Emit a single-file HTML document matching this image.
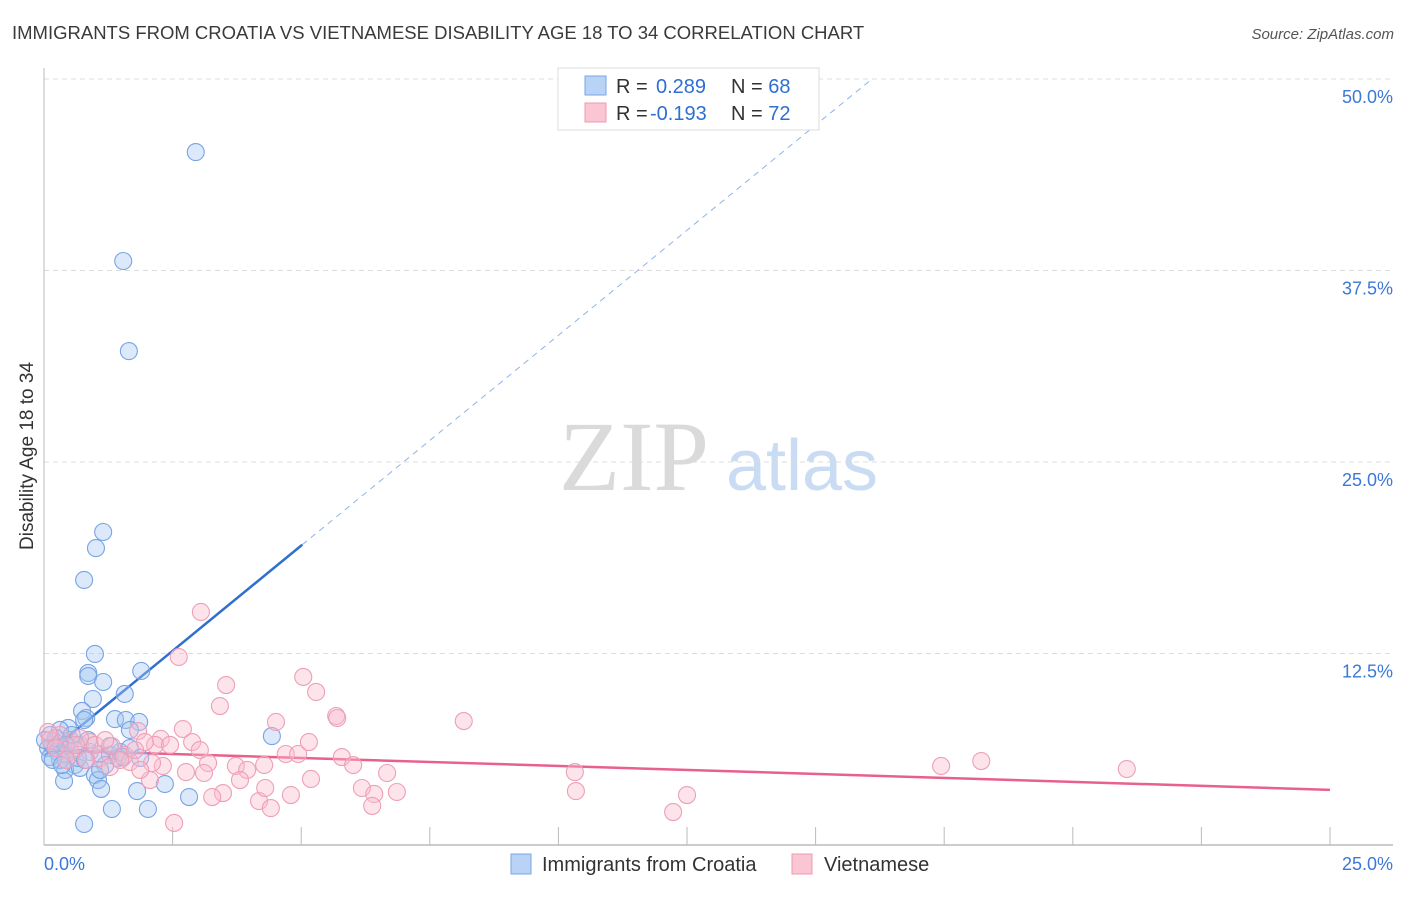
<!DOCTYPE html>
<html><head><meta charset="utf-8"><style>
body{margin:0;background:#fff;font-family:"Liberation Sans",sans-serif;}
</style></head><body>
<svg id="chart" width="1406" height="892" viewBox="0 0 1406 892" xmlns="http://www.w3.org/2000/svg" font-family="Liberation Sans, sans-serif">
<text x="12" y="39" font-size="18.5" fill="#3a3a3a">IMMIGRANTS FROM CROATIA VS VIETNAMESE DISABILITY AGE 18 TO 34 CORRELATION CHART</text>
<text x="1394" y="39" font-size="15" fill="#555" font-style="italic" text-anchor="end">Source: ZipAtlas.com</text>
<g>
<text x="634" y="490" font-size="100" style="font-family:'Liberation Serif',serif" fill="#dadada" text-anchor="middle">ZIP</text>
<text x="802" y="490" font-size="72" fill="#c9dcf3" text-anchor="middle">atlas</text>
</g>
<g id="grid"></g>
<g id="axes"></g>
<g id="lines"></g>
<g id="points"></g>
<text transform="translate(33,456) rotate(-90)" font-size="19" fill="#333" text-anchor="middle">Disability Age 18 to 34</text>
<g>
<rect x="558" y="68" width="261" height="62" fill="#fff" stroke="#ddd"/>
<rect x="585" y="76" width="21" height="19" fill="#b8d3f5" stroke="#7aa6e6"/>
<rect x="585" y="103" width="21" height="19" fill="#fbc6d4" stroke="#eb9ab2"/>
<text x="616" y="93" font-size="20" fill="#333">R = <tspan fill="#2f6fd0" x="656">0.289</tspan><tspan x="731" fill="#333">N = </tspan><tspan fill="#2f6fd0">68</tspan></text>
<text x="616" y="120" font-size="20" fill="#333">R = <tspan fill="#2f6fd0" x="650">-0.193</tspan><tspan x="731" fill="#333">N = </tspan><tspan fill="#2f6fd0">72</tspan></text>
</g>
<g>
<rect x="511" y="854" width="20" height="20" fill="#b8d3f5" stroke="#7aa6e6"/>
<text x="542" y="871" font-size="20" fill="#333">Immigrants from Croatia</text>
<rect x="792" y="854" width="20" height="20" fill="#fbc6d4" stroke="#eb9ab2"/>
<text x="824" y="871" font-size="20" fill="#333">Vietnamese</text>
</g>
</svg>
<script>
const xTicks=[0,2.5,5,7.5,10,12.5,15,17.5,20,22.5,25];
const yTicks=[12.5,25,37.5,50];
const yTickLabels=["12.5%","25.0%","37.5%","50.0%"];
const xEndLabels=["0.0%","25.0%"];
const blueX=[2.95,1.54,1.65,1.15,1.01,0.78,0.99,0.86,0.86,1.89,1.15,0.95,1.57,0.74,0.82,0.78,1.38,1.59,1.85,1.67,4.43,0.47,0.31,0.12,0.21,0.51,0.70,0.35,0.08,0.60,0.27,0.41,0.89,1.09,1.28,1.48,1.44,0.60,0.41,0.70,1.19,0.31,0.12,0.99,1.05,1.11,0.39,1.81,2.35,2.82,1.32,2.02,0.78,0.16,0.54,0.23,0.43,0.86,0.02,0.66,0.17,0.35,1.09,1.67,1.28,1.54,1.87,0.80];
const blueY=[45.23,38.12,32.24,20.43,19.38,17.30,12.47,11.23,11.03,11.36,10.64,9.53,9.86,8.75,8.29,8.16,8.22,8.16,8.03,7.51,7.11,7.64,7.51,7.18,6.72,6.85,6.53,6.33,6.33,6.20,6.07,5.87,6.07,5.94,5.87,6.07,5.68,5.22,4.90,5.03,5.22,5.55,5.74,4.57,4.24,3.66,4.18,3.52,3.98,3.13,2.35,2.35,1.37,6.53,7.18,6.98,6.53,6.85,6.85,5.68,5.55,5.22,4.90,6.33,6.46,5.74,5.68,5.55];
const pinkX=[3.05,2.62,3.54,5.04,5.29,3.42,4.51,5.68,5.70,8.16,2.70,2.88,1.83,2.27,2.16,1.32,1.57,1.96,2.45,3.19,3.11,2.76,3.73,3.95,4.28,4.70,4.94,5.15,5.79,6.01,6.67,3.48,3.27,4.18,4.41,4.80,5.19,6.18,6.42,6.86,6.38,10.32,10.34,12.50,12.23,17.44,18.22,21.05,2.53,2.31,2.10,1.67,1.09,0.89,0.70,0.31,0.12,0.51,1.28,1.48,1.77,2.06,3.81,4.30,0.08,0.23,0.43,0.62,0.82,0.99,1.19,1.87,3.03];
const pinkY=[15.21,12.27,10.44,10.97,9.99,9.07,8.03,8.42,8.29,8.09,7.57,6.72,7.44,6.92,6.53,6.46,5.87,6.72,6.53,5.35,4.70,4.76,5.16,4.90,5.22,5.94,5.94,6.72,5.74,5.22,4.70,3.39,3.13,2.87,2.41,3.26,4.31,3.72,3.33,3.46,2.55,4.76,3.52,3.26,2.15,5.16,5.48,4.96,1.44,5.16,5.35,5.42,5.68,6.72,6.98,7.18,6.85,6.07,5.09,5.55,6.20,4.24,4.24,3.72,7.38,6.33,5.55,6.53,5.55,6.53,6.85,4.90,6.20];
const blueTrend=[[0,5.8],[5.02,19.6],[16.06,49.9]];
const pinkTrend=[[0,6.2],[25,3.6]];

const NS="http://www.w3.org/2000/svg";
const X=v=>44+v/25*1286;
const Y=v=>845-v/50*766;
function mk(tag,attrs,parent){const e=document.createElementNS(NS,tag);for(const k in attrs)e.setAttribute(k,attrs[k]);document.getElementById(parent).appendChild(e);return e;}

yTicks.forEach((t,i)=>{
 const g=mk('line',{x1:44,x2:1393,y1:Y(t),y2:Y(t),stroke:'#dcdcdc','stroke-dasharray':'5,4'},'grid');
 
 
 const l=mk('text',{x:1393,y:Y(t)+24,'font-size':18,fill:'#3b78d8','text-anchor':'end'},'axes');
 l.textContent=yTickLabels[i];
 
 
});
const ya=mk('line',{x1:44,x2:44,y1:68,y2:845,stroke:'#bbb'},'axes');


const xa=mk('line',{x1:44,x2:1393,y1:845,y2:845,stroke:'#bbb','stroke-width':1.5},'axes');


xTicks.forEach(t=>{
 const tk=mk('line',{x1:X(t),x2:X(t),y1:827,y2:845,stroke:'#bbb'},'axes');
 
 
});
const xl0=mk('text',{x:44,y:870,'font-size':18,fill:'#3b78d8'},'axes');
xl0.textContent=xEndLabels[0];


const xl1=mk('text',{x:1393,y:870,'font-size':18,fill:'#3b78d8','text-anchor':'end'},'axes');
xl1.textContent=xEndLabels[1];



const bs=mk('line',{x1:X(blueTrend[0][0]),y1:Y(blueTrend[0][1]),x2:X(blueTrend[1][0]),y2:Y(blueTrend[1][1]),stroke:'#2f6fd0','stroke-width':2.5},'lines');


const bd=mk('line',{x1:X(blueTrend[1][0]),y1:Y(blueTrend[1][1]),x2:X(blueTrend[2][0]),y2:Y(blueTrend[2][1]),stroke:'#8fb3e8','stroke-width':1,'stroke-dasharray':'6,5'},'lines');


const pl=mk('line',{x1:X(pinkTrend[0][0]),y1:Y(pinkTrend[0][1]),x2:X(pinkTrend[1][0]),y2:Y(pinkTrend[1][1]),stroke:'#e8608c','stroke-width':2.5},'lines');



blueX.forEach((v,i)=>{
 const c=mk('circle',{cx:X(v),cy:Y(blueY[i]),r:8.5,fill:'rgba(165,200,242,0.4)',stroke:'#78a4e4','stroke-width':1.1},'points');
 
 
});
pinkX.forEach((v,i)=>{
 const c=mk('circle',{cx:X(v),cy:Y(pinkY[i]),r:8.5,fill:'rgba(249,188,206,0.4)',stroke:'#ee9fb8','stroke-width':1.1},'points');
 
 
});
</script>
</body></html>
